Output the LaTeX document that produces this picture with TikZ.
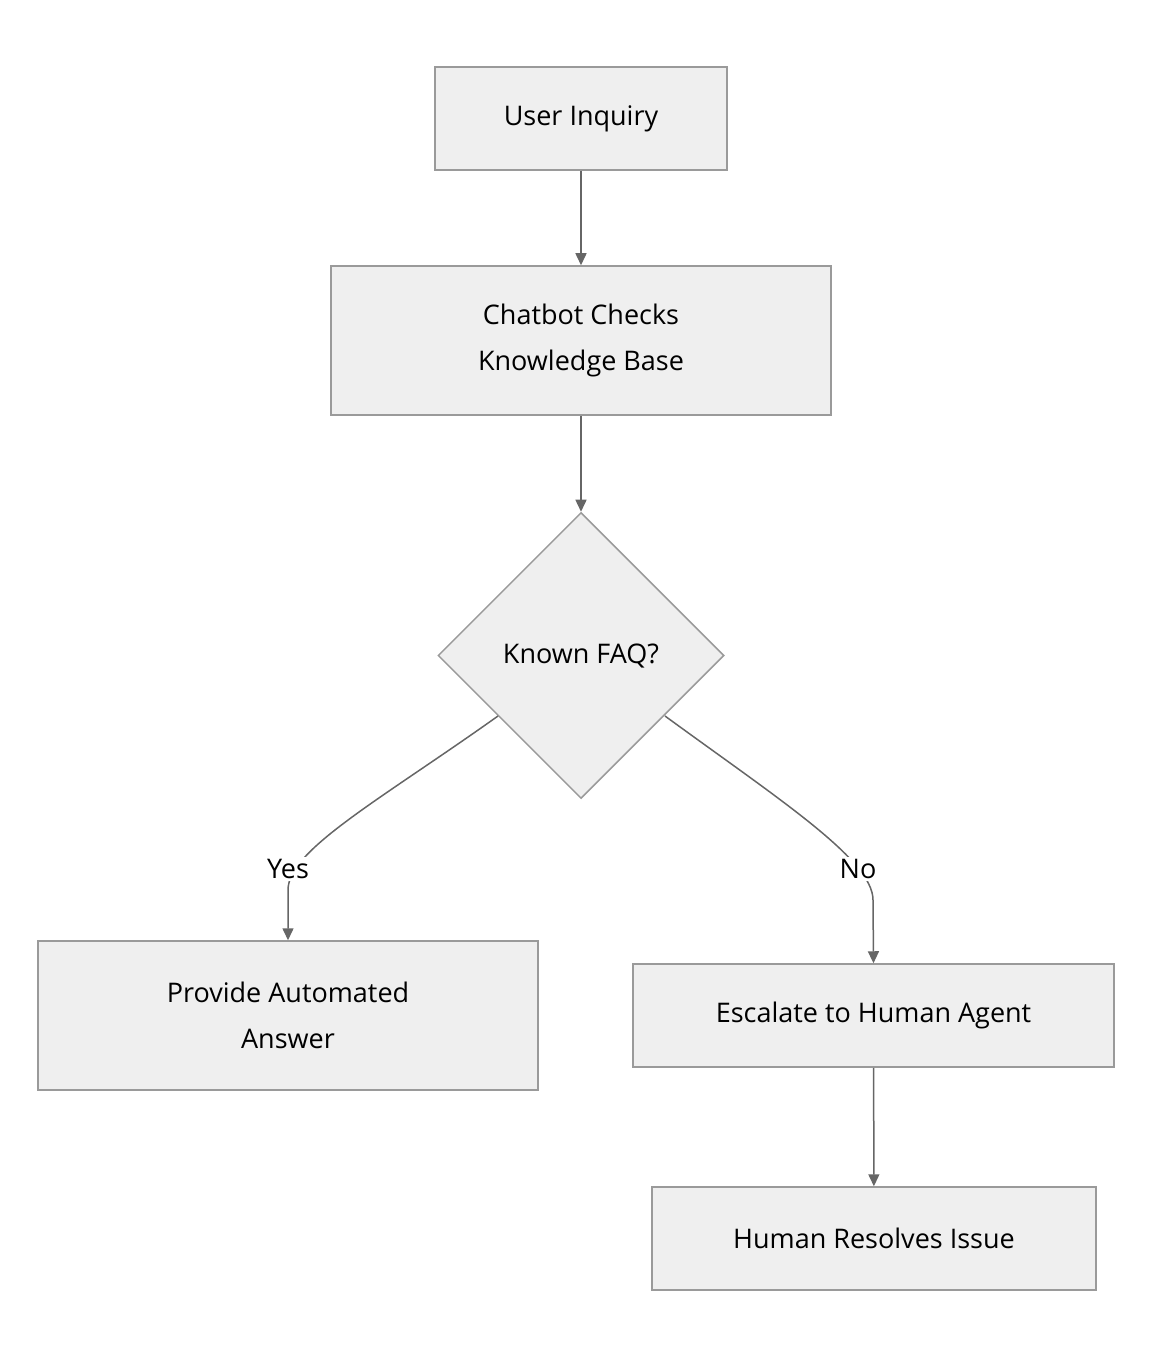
\documentclass[tikz,border=0pt]{standalone}
\usepackage{fontspec}
\setmainfont{Open Sans}
\usetikzlibrary{shapes.geometric,arrows.meta}
\definecolor{boxfill}{HTML}{EFEFEF}
\definecolor{boxline}{HTML}{9A9A9A}
\definecolor{arr}{HTML}{666666}
\begin{document}
\begin{tikzpicture}[x=1pt,y=-1pt,
  box/.style={draw=boxline,fill=boxfill,line width=1.5pt,inner sep=0pt,align=center,font=\fontsize{27}{46}\selectfont},
  dia/.style={diamond,draw=boxline,fill=boxfill,line width=1.5pt,inner sep=0pt,minimum width=286pt,minimum height=286pt,font=\fontsize{27}{46}\selectfont},
  lab/.style={fill=white,inner sep=2pt,font=\fontsize{27}{32}\selectfont},
  con/.style={draw=arr,line width=1.5pt,-{Triangle[length=12pt,width=11pt]}}]
\useasboundingbox (0,0) rectangle (1152,1356);
\node[box,minimum width=292pt,minimum height=103pt] (a) at (581,118.5) {User Inquiry};
\node[box,minimum width=500pt,minimum height=149pt] (b) at (581,340.5) {Chatbot Checks\\Knowledge Base};
\node[dia] (c) at (581,655.5) {Known FAQ?};
\node[box,minimum width=500pt,minimum height=149pt] (d) at (288,1015.5) {Provide Automated\\Answer};
\node[box,minimum width=481pt,minimum height=103pt] (e) at (873.5,1015.5) {Escalate to Human Agent};
\node[box,minimum width=444pt,minimum height=103pt] (f) at (874,1238.5) {Human Resolves Issue};
\coordinate (y1) at (498,716);
\coordinate (n1) at (665,716);
\draw[con] (a) -- (b);
\draw[con] (b) -- (c);
\draw[con] (y1) .. controls (380,800) and (288,850) .. (288,890) -- (d.north);
\draw[con] (n1) .. controls (780,800) and (873,860) .. (873,900) -- (e.north);
\node[lab] at (288,869) {Yes};
\node[lab] at (858,869) {No};
\draw[con] (e) -- (f);
\end{tikzpicture}
\end{document}
